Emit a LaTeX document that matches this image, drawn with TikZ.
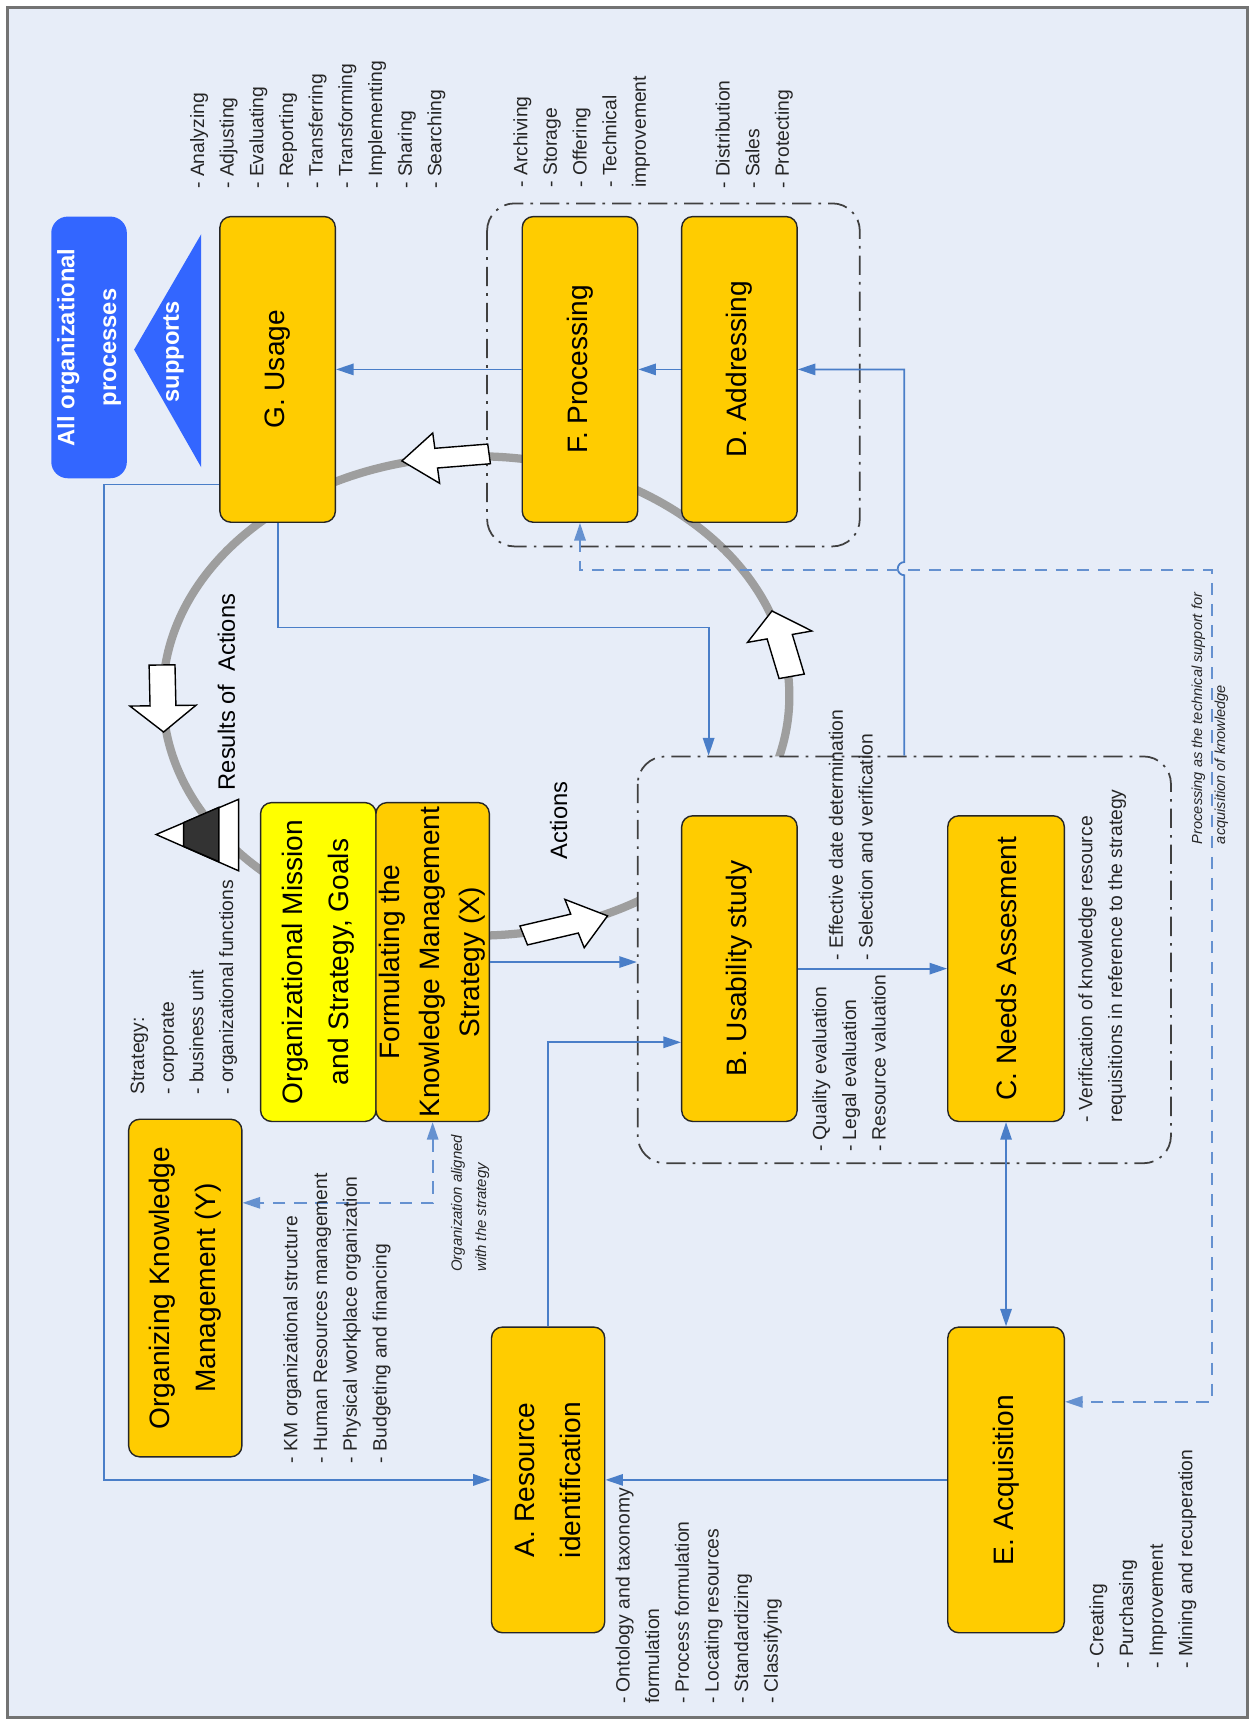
\documentclass[tikz,border=0pt]{standalone}
\usepackage{fontspec}
\setmainfont{Liberation Sans}
\usetikzlibrary{arrows.meta,calc}
\definecolor{bgblue}{HTML}{E7EDF8}
\definecolor{boxgold}{HTML}{FFCC00}
\definecolor{missionyellow}{HTML}{FFFF00}
\definecolor{linkblue}{HTML}{4A7EC8}
\definecolor{procblue}{HTML}{3366FF}
\definecolor{ringgray}{HTML}{9E9E9E}
\tikzset{
  >={Triangle[length=10pt,width=6.5pt]},
  box/.style={draw=black!85, line width=0.8pt, fill=boxgold, rounded corners=0.22cm,
    align=center, font=\fontsize{16}{26}\selectfont, inner sep=2pt},
  boxsize/.style 2 args={minimum width=#1*0.022cm, minimum height=#2*0.022cm},
  group/.style={draw=black!75, line width=1pt, rounded corners=0.55cm,
    dash pattern=on 11pt off 4pt on 1.5pt off 4pt},
  link/.style={draw=linkblue, line width=1pt, ->},
  dashlink/.style={draw=linkblue!85, line width=1pt, dash pattern=on 7pt off 5pt, <->},
  notes/.style={font=\fontsize{11}{16.9}\selectfont, align=left, inner sep=0pt,
    anchor=north west, text=black!85},
  ring/.style={draw=ringgray, line width=4.7pt},
  blockarrow/.pic={
    \draw[fill=white, draw=black, line width=0.8pt]
      (-32,-9) -- (5,-9) -- (5,-23) -- (29,0) -- (5,23) -- (5,9) -- (-32,9) -- cycle;}
}

\begin{document}
\begin{tikzpicture}[x=0.022cm, y=0.022cm]
  \useasboundingbox (0,0) rectangle (1141,1568);
  \draw[line width=1.7pt, draw=black!55, fill=bgblue] (7,6) rectangle (1135,1561);

  % the whole chart is laid out landscape and turned
  \begin{scope}[shift={(1141,0)}, rotate=90, transform shape]

    % cycle
    \begin{scope}[shift={(935,708)}, yscale=1.307]
      \draw[ring] (0,0) circle[radius=218];
    \end{scope}

    \node[group, fill=bgblue, boxsize={370}{485}] (grpB) at (695,318.5) {};
    \node[group, boxsize={312}{339}] (grpFD) at (1227,528.5) {};

    \begin{scope}[shift={(935,708)}, yscale=1.307]
      \foreach \ang in {6,91,197,283}
        \pic[rotate=\ang+90] at (\ang:218) {blockarrow};
    \end{scope}

    \filldraw[fill=white, draw=black, line width=0.8pt] (809,999) -- (776,924) -- (841,924) -- cycle;
    \filldraw[fill=black!80, draw=black, line width=0.8pt]
      (798.2,974) -- (819.8,974) -- (833.7,942) -- (784.3,942) -- cycle;

    % boxes
    \node[box, boxsize={278}{105}] (G) at (1232,888.5) {G. Usage};
    \node[box, boxsize={278}{105}] (F) at (1232,613.5) {F. Processing};
    \node[box, boxsize={278}{105}] (D) at (1232,468.5) {D. Addressing};
    \node[box, fill=missionyellow, boxsize={290}{105}] (mission) at (693,851.5)
      {Organizational Mission\\and Strategy, Goals};
    \node[box, boxsize={290}{103}, font=\fontsize{16}{22.8}\selectfont] (formulate) at (693,747.5)
      {Formulating the\\Knowledge Management\\Strategy (X)};
    \node[box, boxsize={278}{105}] (B) at (687,468.5) {B. Usability study};
    \node[box, boxsize={278}{106}] (C) at (687,226) {C. Needs Assesment};
    \node[box, boxsize={278}{103}] (A) at (222,642.5) {A. Resource\\identification};
    \node[box, boxsize={278}{106}] (E) at (222,226) {E. Acquisition};
    \node[box, boxsize={307}{103}] (orgkm) at (396.5,972.5) {Organizing Knowledge\\Management (Y)};

    \node[fill=procblue, rounded corners=0.33cm, boxsize={238}{68}, text=white, align=center,
      font=\bfseries\fontsize{13.5}{23.8}\selectfont] (allproc) at (1252,1060)
      {All organizational\\processes};
    \fill[procblue] (1250,1019) -- (1143,958) -- (1355,958) -- cycle;
    \node[text=white, font=\bfseries\fontsize{13.5}{16}\selectfont] (supports) at (1248,983) {supports};

    % connectors
    \draw[link] (F) -- (G);
    \draw[link] (D) -- (F);
    \draw[link] (grpB.east) -- ++(164,0) arc[start angle=180, end angle=0, radius=6] -| (D.south);
    \draw[link] (G.west) -- ++(-95,0) |- ($(grpB.east)+(0,178)$);
    \draw[link] ($(G.north west)+(35,0)$) -- ++(0,105) -| (A.north);
    \draw[link] (formulate.south) -- (formulate.south |- grpB.north);
    \draw[link] (A.east) -| ($(B.north)+(-67,0)$);
    \draw[link] (B) -- (C);
    \draw[link, <->] (C) -- (E);
    \draw[link] (E) -- (A);
    \draw[dashlink] (formulate.west) -| ($(orgkm.south)+(77.5,0)$);
    \draw[dashlink] (F.west) -- ++(-43,0) -- ++(0,-574.5) -| ($(E.south)+(71,0)$);

    % labels
    \node[anchor=west, inner sep=0pt, font=\fontsize{13.5}{16}\selectfont] (resultsLbl) at (849,935)
      {Results of\ \ Actions};
    \node[anchor=west, inner sep=0pt, font=\fontsize{13.5}{16}\selectfont] (actionsLbl) at (786,633) {Actions};

    \node[notes] (usageList) at (1396,968.5)
      {- Analyzing\\- Adjusting\\- Evaluating\\- Reporting\\- Transferring\\- Transforming\\- Implementing\\- Sharing\\- Searching};
    \node[notes] (procList) at (1397,674.5) {- Archiving\\- Storage\\- Offering\\- Technical\\improvement};
    \node[notes] (addrList) at (1396,490.5) {- Distribution\\- Sales\\- Protecting};
    \node[notes] (stratList) at (572,1022.5) {Strategy:\\- corporate\\- business unit\\- organizational functions};
    \node[notes] (orgList) at (237,883.5)
      {- KM organizational structure\\- Human Resources management\\- Physical workplace organization\\- Budgeting and financing};
    \node[notes] (resList) at (18,581.5)
      {- Ontology and taxonomy\\formulation\\- Process formulation\\- Locating resources\\- Standardizing\\- Classifying};
    \node[notes] (acqList) at (50,150.5) {- Creating\\- Purchasing\\- Improvement\\- Mining and recuperation};
    \node[notes] (evalList) at (520,402.5) {- Quality evaluation\\- Legal evaluation\\- Resource valuation};
    \node[notes] (dateList) at (694,387.5) {- Effective date determination\\- Selection and verification};
    \node[notes] (needList) at (547,160.5)
      {- Verification of knowledge resource\\requisitions in reference to the strategy};
    \node[notes, font=\itshape\fontsize{8.3}{13.1}\selectfont] (supportNote) at (800,57.6)
      {Processing as the technical support for\\acquisition of knowledge};
    \node[notes, font=\itshape\fontsize{8.5}{13.8}\selectfont] (alignNote) at (411,731)
      {Organization aligned\\with the strategy};
  \end{scope}
\end{tikzpicture}
\end{document}
